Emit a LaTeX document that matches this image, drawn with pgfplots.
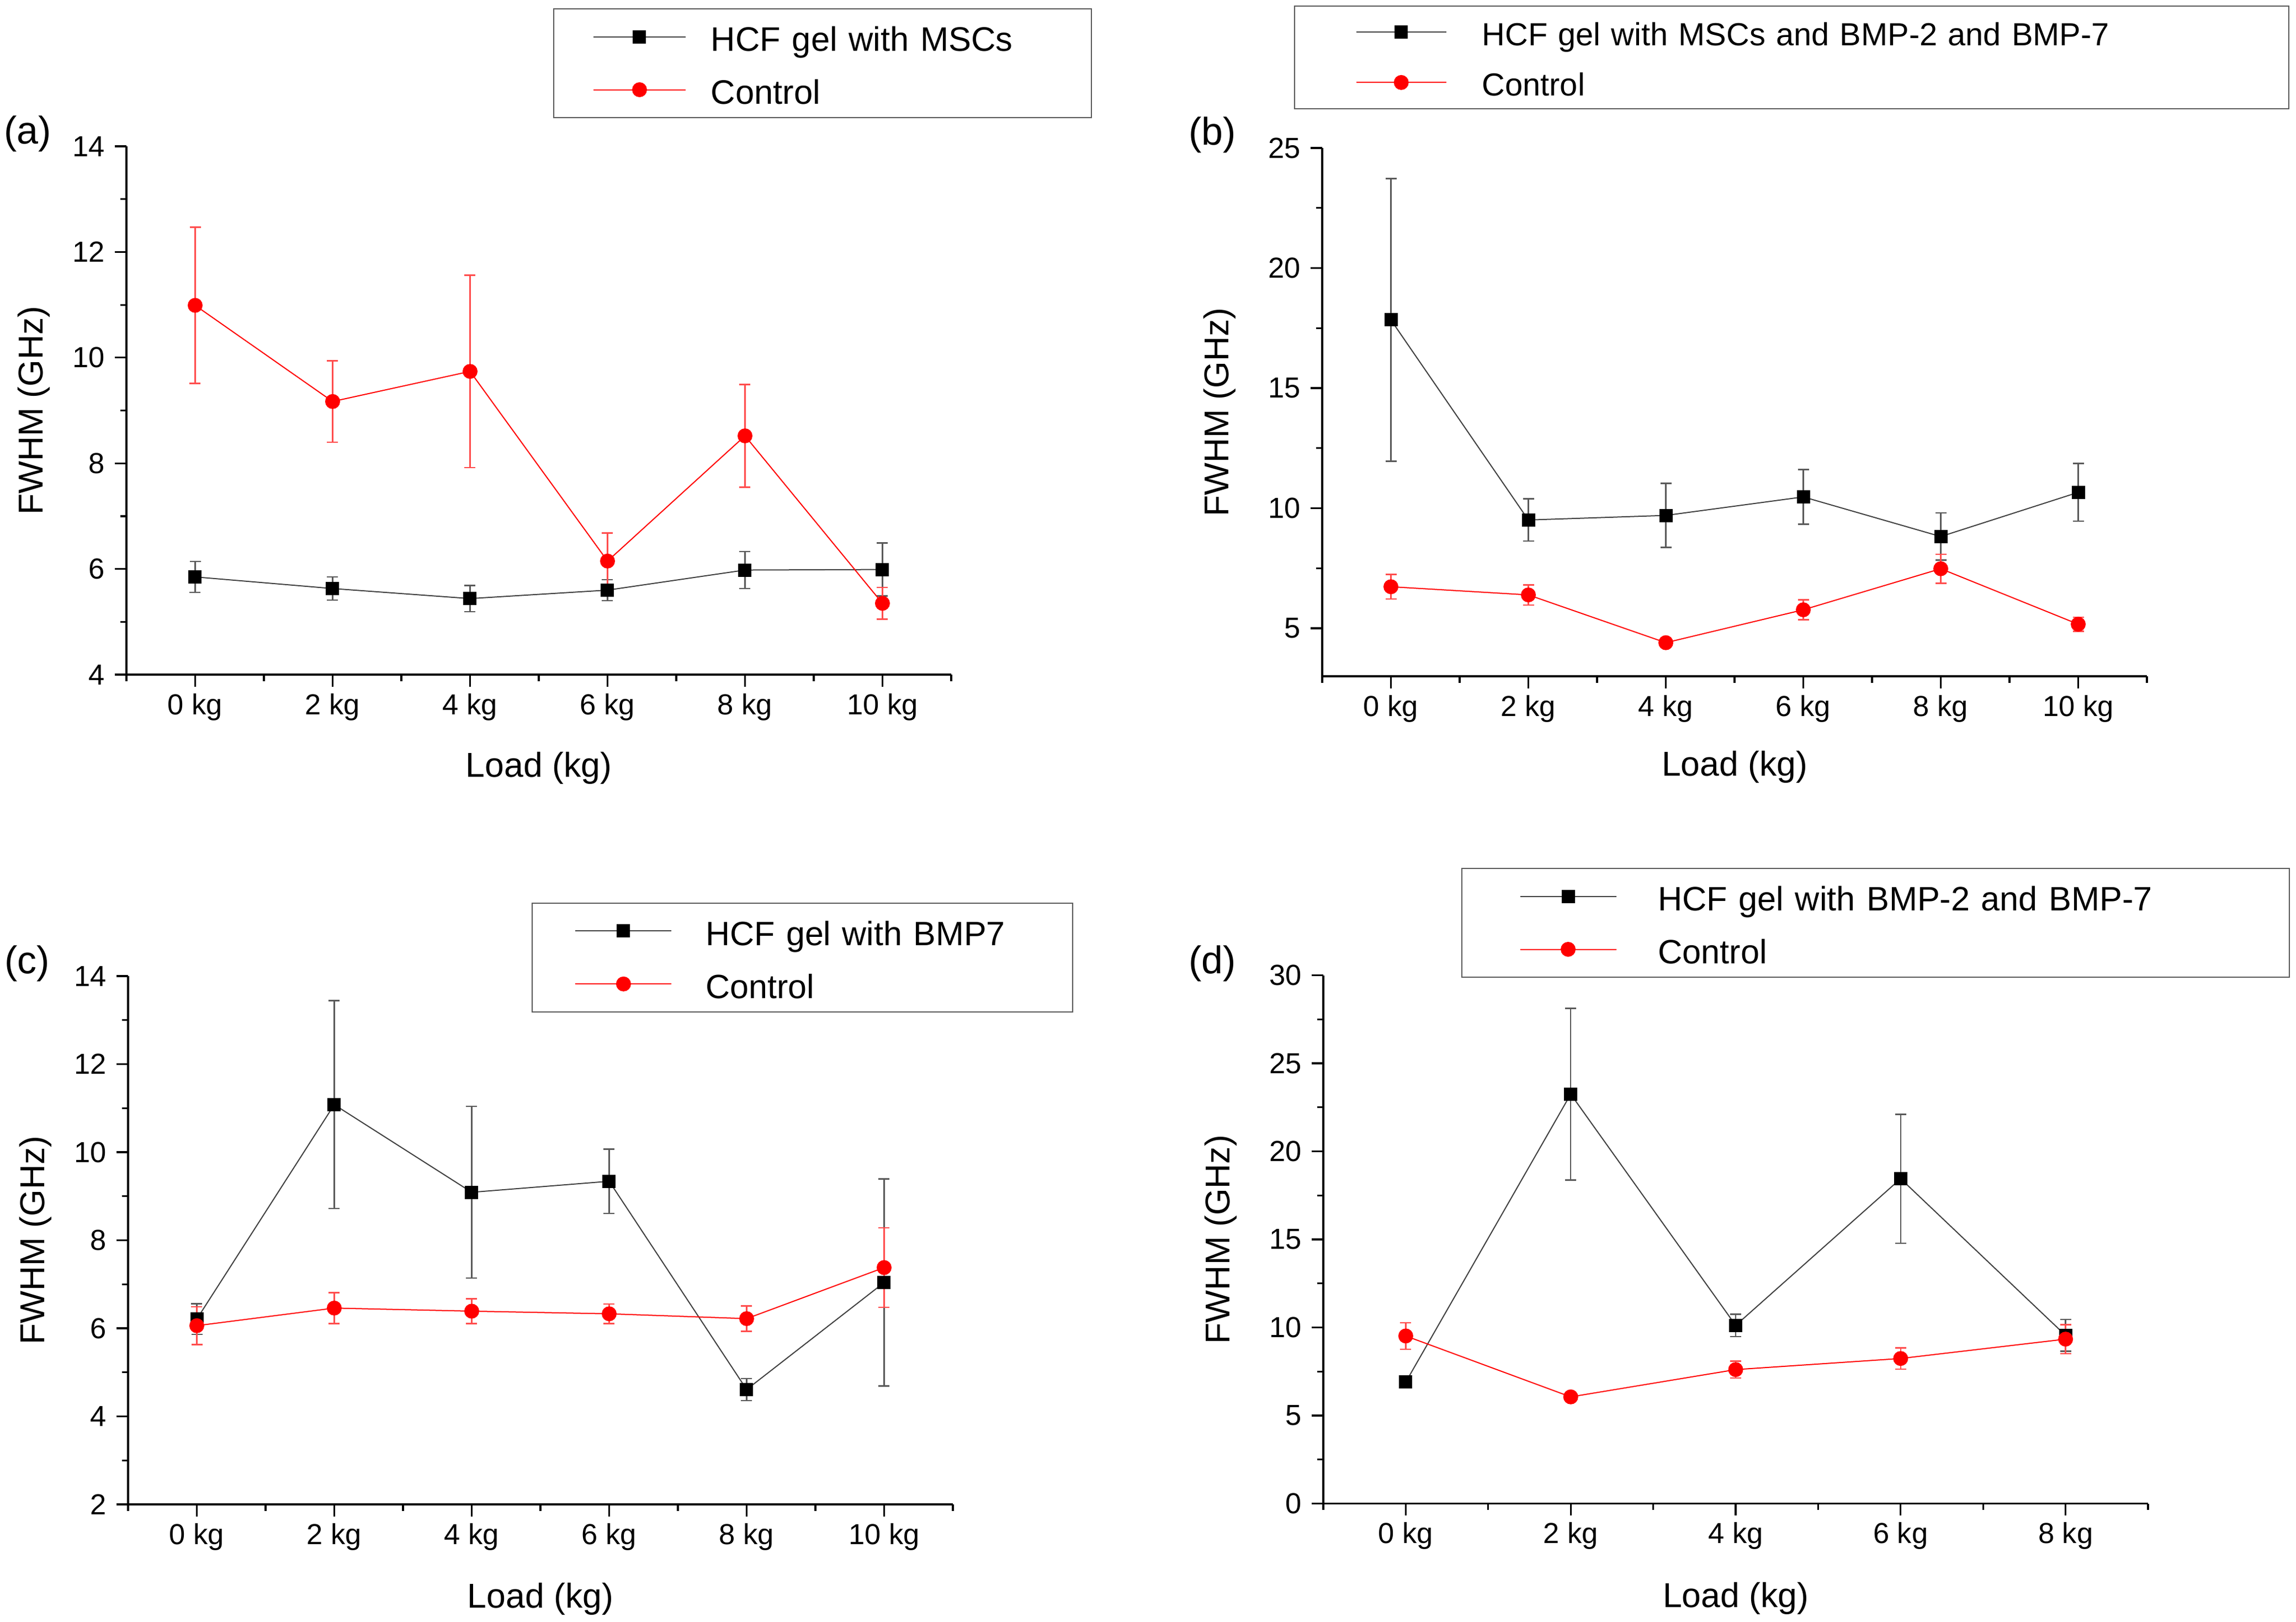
\documentclass[border=0pt]{standalone}
\usepackage{pgfplots}
\pgfplotsset{compat=1.18}
\usepackage{pgfplotstable}
\usepackage{fontspec}
\setmainfont{Liberation Sans}

% x: category index (0 kg, 2 kg, ...), h/he: HCF gel series, c/ce: control
\pgfplotstableread{
x  h      he    c      ce
0  5.85   0.29  10.99  1.48
1  5.63   0.22  9.17   0.77
2  5.44   0.25  9.74   1.82
3  5.60   0.20  6.15   0.53
4  5.98   0.35  8.52   0.97
5  5.99   0.50  5.35   0.30
}\dataA
\pgfplotstableread{
x  h      he    c      ce
0  17.84  5.88  6.73   0.51
1  9.51   0.88  6.39   0.42
2  9.70   1.33  4.40   0.10
3  10.47  1.14  5.77   0.41
4  8.82   0.98  7.48   0.60
5  10.66  1.20  5.17   0.29
}\dataB
\pgfplotstableread{
x  h      he    c      ce
0  6.21   0.35  6.06   0.43
1  11.08  2.36  6.46   0.35
2  9.09   1.95  6.39   0.28
3  9.34   0.73  6.33   0.22
4  4.61   0.25  6.22   0.29
5  7.04   2.35  7.38   0.90
}\dataC
\pgfplotstableread{
x  h      he    c      ce
0  6.90   0.20  9.52   0.75
1  23.25  4.87  6.06   0.15
2  10.12  0.63  7.61   0.48
3  18.45  3.66  8.24   0.60
4  9.55   0.90  9.34   0.82
}\dataD

\pgfplotsset{
  panel/.style={
    scale only axis, width=298.8pt, height=191.4pt,
    axis lines=left, axis line style={-, line width=0.65pt},
    tick align=outside, major tick length=4.3pt, minor tick length=2.3pt,
    every tick/.style={black, line width=0.65pt},
    minor y tick num=1,
    tick label style={font=\fontsize{10.5}{12}\selectfont},
    xticklabel style={yshift=1pt},
    label style={font=\fontsize{12.5}{15}\selectfont},
    /pgf/number format/assume math mode=true,
    xlabel={Load (kg)}, ylabel={FWHM (GHz)},
    legend cell align=left,
  },
  six/.style={xmin=-0.5, xmax=5.5, xtick={0,...,5},
    xticklabels={0 kg,2 kg,4 kg,6 kg,8 kg,10 kg},
    minor xtick={-0.5,0.5,...,5.5}},
  five/.style={xmin=-0.5, xmax=4.5, xtick={0,...,4},
    xticklabels={0 kg,2 kg,4 kg,6 kg,8 kg},
    minor xtick={-0.5,0.5,...,4.5}},
  % at x, at y, left pad, gap, text width, font size, image length,
  % text height, text depth
  mylegend/.style n args={9}{
    legend style={at={(#1,#2)}, anchor=north west, draw=black!65,
      line width=0.4pt, inner xsep=0pt, inner ysep=3.3pt, row sep=5.7pt,
      font=\fontsize{#6}{#6}\selectfont,
      nodes={inner sep=0pt, text width=#5, align=left,
        text height=#8, text depth=#9},
      /tikz/every odd column/.style={column sep=#4}},
    legend image code/.code={
      \path[draw=none, fill=none] (-#3,0pt) rectangle (0pt,0.1pt);
      \draw[mark repeat=2,mark phase=2,##1]
        plot coordinates {(0pt,0pt) (#7/2,0pt) (#7,0pt)};},
  },
  hcf/.style={color=black!75, line width=0.4pt, mark=square*, mark size=2.2pt,
    mark options={solid, fill=black, draw=black},
    error bars/.cd, y dir=both, y explicit,
    error bar style={black!65, line width=0.5pt},
    error mark options={black!65, mark size=2pt, line width=0.5pt, rotate=90}},
  ctrl/.style={color=red, line width=0.4pt, mark=*, mark size=2.5pt,
    mark options={solid, fill=red, draw=red},
    error bars/.cd, y dir=both, y explicit,
    error bar style={red!70, line width=0.5pt},
    error mark options={red!70, mark size=2pt, line width=0.5pt, rotate=90}},
}

\begin{document}
\begin{tikzpicture}
\path[use as bounding box] (0pt,0pt) rectangle (831.8pt,-587.4pt);

% (a)
\begin{axis}[panel, six, at={(45.8pt,-244.4pt)}, anchor=south west,
  ymin=4, ymax=14, ytick={4,6,...,14},
  xlabel style={at={(axis description cs:0.5,-0.177)}, anchor=center},
  ylabel style={at={(axis description cs:-0.112,0.5)}, anchor=center},
  mylegend={0.5174}{1.261}{14.4pt}{9pt}{137.9pt}{12.3}{33.4pt}{11.9pt}{1.6pt}]
\addplot[hcf] table[x=x, y=h, y error=he] {\dataA};
\addlegendentry{HCF gel with MSCs}
\addplot[ctrl] table[x=x, y=c, y error=ce] {\dataA};
\addlegendentry{Control}
\end{axis}

% (b)
\begin{axis}[panel, six, at={(479pt,-245pt)}, anchor=south west,
  ymin=3, ymax=25, ytick={5,10,...,25},
  xlabel style={at={(axis description cs:0.5,-0.172)}, anchor=center},
  ylabel style={at={(axis description cs:-0.124,0.5)}, anchor=center},
  mylegend={-0.034}{1.27}{22.3pt}{12.8pt}{292.2pt}{11.55}{32.6pt}{11pt}{1.5pt}]
\addplot[hcf] table[x=x, y=h, y error=he] {\dataB};
\addlegendentry{HCF gel with MSCs and BMP-2 and BMP-7}
\addplot[ctrl] table[x=x, y=c, y error=ce] {\dataB};
\addlegendentry{Control}
\end{axis}

% (c)
\begin{axis}[panel, six, at={(46.4pt,-545pt)}, anchor=south west,
  ymin=2, ymax=14, ytick={2,4,...,14},
  xlabel style={at={(axis description cs:0.5,-0.179)}, anchor=center},
  ylabel style={at={(axis description cs:-0.112,0.5)}, anchor=center},
  mylegend={0.4896}{1.139}{15.6pt}{12.2pt}{133pt}{12.2}{34.8pt}{11.9pt}{1.6pt}]
\addplot[hcf] table[x=x, y=h, y error=he] {\dataC};
\addlegendentry{HCF gel with BMP7}
\addplot[ctrl] table[x=x, y=c, y error=ce] {\dataC};
\addlegendentry{Control}
\end{axis}

% (d)
\begin{axis}[panel, five, at={(479.4pt,-544.7pt)}, anchor=south west,
  ymin=0, ymax=30, ytick={0,5,...,30},
  xlabel style={at={(axis description cs:0.5,-0.179)}, anchor=center},
  ylabel style={at={(axis description cs:-0.124,0.5)}, anchor=center},
  mylegend={0.167}{1.203}{21.2pt}{15pt}{228.6pt}{12.25}{34.8pt}{11.9pt}{1.6pt}]
\addplot[hcf] table[x=x, y=h, y error=he] {\dataD};
\addlegendentry{HCF gel with BMP-2 and BMP-7}
\addplot[ctrl] table[x=x, y=c, y error=ce] {\dataD};
\addlegendentry{Control}
\end{axis}

\node[font=\fontsize{14}{16}\selectfont] at (10pt,-48.4pt) {(a)};
\node[font=\fontsize{14}{16}\selectfont] at (439.2pt,-48.8pt) {(b)};
\node[font=\fontsize{14}{16}\selectfont] at (9.8pt,-349pt) {(c)};
\node[font=\fontsize{14}{16}\selectfont] at (439.2pt,-349pt) {(d)};
\end{tikzpicture}
\end{document}
